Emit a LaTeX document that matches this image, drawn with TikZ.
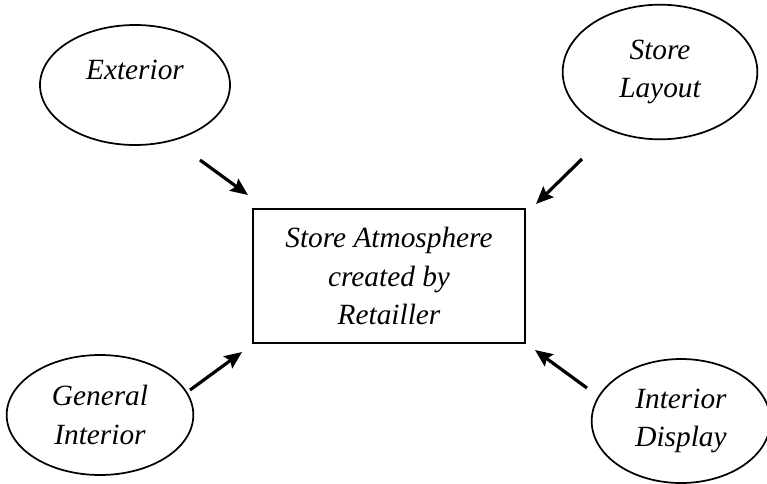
\documentclass[tikz,border=0pt]{standalone}
\usepackage{fontspec}
\setmainfont{Liberation Serif}
\usetikzlibrary{shapes.geometric,arrows.meta}

\begin{document}
\begin{tikzpicture}[
    x=0.75pt, y=-0.75pt,
    font=\fontsize{22}{29}\selectfont\itshape,
    oval/.style={ellipse, draw=black, line width=1.3pt, inner sep=0pt, align=center},
    lbl/.style={align=center, inner sep=0pt},
    mainbox/.style={rectangle, draw=black, line width=1.3pt, minimum width=204pt, minimum height=100.5pt, align=center},
    arr/.style={-{Stealth[length=13pt, width=11pt, inset=2pt]}, line width=2.4pt},
  ]
  \useasboundingbox (0,0) rectangle (767,483);

  % centre box
  \node[mainbox] (atm) at (389,276) {Store Atmosphere\\created by\\Retailler};

  % the four influences
  \node[oval, minimum width=142.5pt, minimum height=90pt] (ext) at (135,85) {};
  \node[lbl] (exttxt) at (135,70) {Exterior};
  \node[oval, minimum width=146pt, minimum height=101pt] (lay) at (660,72) {Store\\Layout};
  \node[oval, minimum width=140pt, minimum height=90pt] (gen) at (100,415) {General\\Interior};
  \node[oval, minimum width=134pt, minimum height=93pt] (disp) at (681,421) {Interior\\Display};

  % arrow ends
  \coordinate (ext-a) at (200,160);
  \coordinate (ext-b) at (248,195);
  \coordinate (lay-a) at (582,159);
  \coordinate (lay-b) at (536,204);
  \coordinate (gen-a) at (190,390);
  \coordinate (gen-b) at (242,352);
  \coordinate (disp-a) at (587,388);
  \coordinate (disp-b) at (535,350);

  \foreach \n in {ext,lay,gen,disp} {
    \draw[arr] (\n-a) -- (\n-b);
  }

\end{tikzpicture}
\end{document}
